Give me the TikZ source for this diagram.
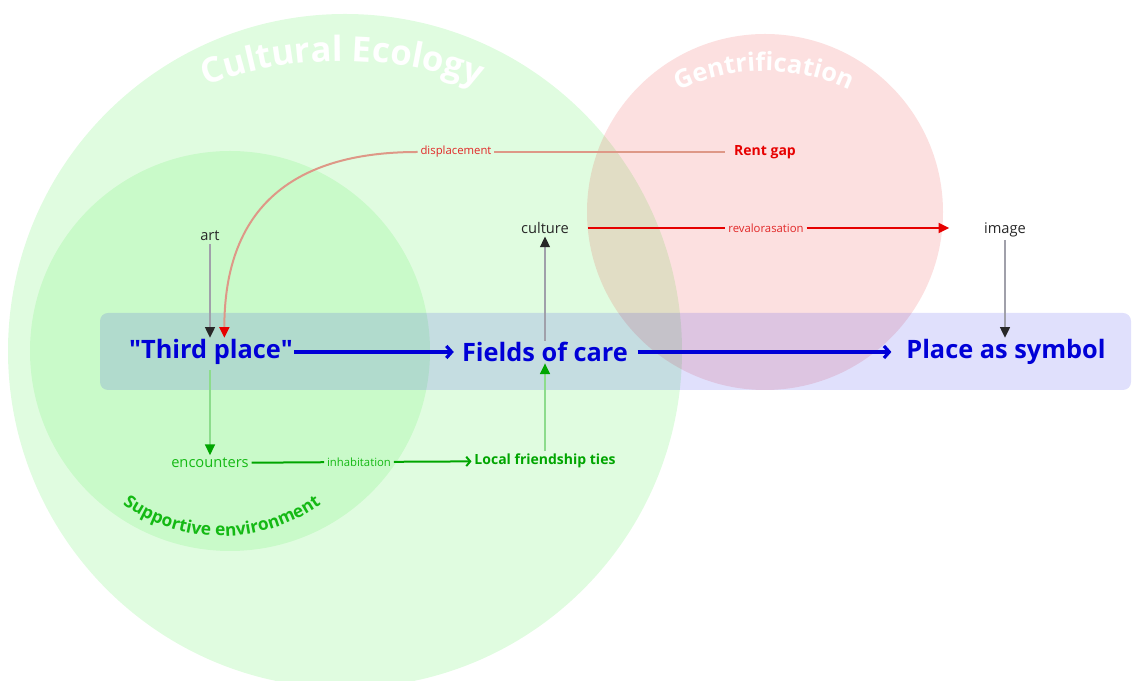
\documentclass[tikz,border=0pt]{standalone}
\usepackage{fontspec}
\setmainfont{Open Sans}
\usepackage{tikz}
\usetikzlibrary{arrows.meta, positioning, decorations.text}
\definecolor{nodeblue}{RGB}{0, 0, 215}
\definecolor{ecogreen}{RGB}{0, 230, 0}
\definecolor{tiegreen}{RGB}{0, 165, 0}
\definecolor{termgreen}{RGB}{20, 185, 20}
\definecolor{linkgreen}{RGB}{140, 220, 140}
\definecolor{gentred}{RGB}{230, 0, 0}
\definecolor{labelred}{RGB}{225, 40, 40}
\definecolor{shiftred}{RGB}{222, 152, 135}
\definecolor{bandblue}{RGB}{0, 0, 230}
\definecolor{textdark}{RGB}{40, 40, 40}
\definecolor{linkgray}{RGB}{160, 160, 170}

\begin{document}
\begin{tikzpicture}[
    x=0.75pt, y=0.75pt,
    main/.style={font=\fontsize{19}{22}\selectfont\bfseries, text=nodeblue, inner sep=1pt},
    term/.style={font=\fontsize{11}{13}\selectfont, text=textdark, inner sep=2pt},
    keyterm/.style={font=\fontsize{10.5}{13}\selectfont\bfseries, inner sep=2pt},
    edgelabel/.style={font=\fontsize{8.5}{10}\selectfont, inner sep=2pt},
    flow/.style={line width=2.4pt, draw=nodeblue, -{Straight Barb[length=4pt, width=9pt]}},
    feed/.style={line width=1.1pt, draw=linkgray, -{Triangle[length=8pt, width=7.5pt, color=textdark]}},
    growlink/.style={line width=1.1pt, draw=linkgreen, -{Triangle[length=8pt, width=7.5pt, color=tiegreen]}},
    arctitle/.style={decorate, decoration={text along path, text align=center}}
]
    \useasboundingbox (0,0) rectangle (1133,681);

    % spheres
    \fill[ecogreen, fill opacity=0.12] (345,330) circle[radius=337];
    \fill[ecogreen, fill opacity=0.10] (230,330) circle[radius=200];
    \fill[gentred, fill opacity=0.12] (765,469) circle[radius=178];
    \fill[bandblue, fill opacity=0.12, rounded corners=6pt] (100,291) rectangle (1131,368);

    \path[arctitle, decoration={text={|\fontsize{26}{26}\selectfont\bfseries\color{white}|Cultural Ecology}}]
        (342,230) ++(125:390) arc[start angle=125, end angle=55, radius=390];
    \path[arctitle, decoration={text={|\fontsize{19}{19}\selectfont\bfseries\color{white}|Gentrification}}]
        (764,410) ++(120:200) arc[start angle=120, end angle=60, radius=200];
    \path[arctitle, decoration={text={|\fontsize{13}{13}\selectfont\bfseries\color{termgreen}|Supportive environment}}]
        (222,315) ++(205:170) arc[start angle=205, end angle=335, radius=170];

    % nodes
    \node[main] (third)  at (211,329)  {\textquotedbl Third place\textquotedbl};
    \node[main] (fields) at (545,329)  {Fields of care};
    \node[main] (symbol) at (1006,329) {Place as symbol};

    \node[term] (art)     at (210,445)  {art};
    \node[term] (culture) at (545,453)  {culture};
    \node[term] (image)   at (1005,451) {image};

    \node[keyterm, text=gentred] (rent) at (765,529) {Rent gap};
    \node[edgelabel, text=labelred] (disp)  at (456,529) {displacement};
    \node[edgelabel, text=labelred] (reval) at (766,453) {revalorasation};

    \node[term, text=termgreen] (enc)  at (210,218) {encounters};
    \node[keyterm, text=tiegreen] (ties) at (545,220) {Local friendship ties};
    \node[edgelabel, text=termgreen] (inhab) at (359,219) {inhabitation};

    % links
    \draw[flow, shorten >=5pt] (third) -- (fields);
    \draw[flow, shorten <=6pt, shorten >=10pt] (fields) -- (symbol);

    \draw[feed] (art) -- (third.north -| art);
    \draw[feed] (fields) -- (culture);
    \draw[feed] (image) -- (symbol.north -| image);

    \draw[line width=1.5pt, draw=gentred, shorten <=12pt] (culture) -- (reval);
    \draw[line width=1.5pt, draw=gentred, shorten >=24pt,
          -{Triangle[length=8pt, width=7.5pt]}] (reval.east) -- (reval.east -| image.west);

    \draw[line width=1.5pt, draw=shiftred, shorten <=5pt] (rent) -- (disp);
    \draw[line width=1.5pt, draw=shiftred, -{Triangle[length=8pt, width=7.5pt, color=gentred]}]
        (disp.west) to[out=180, in=90, out looseness=1, in looseness=1.4] ([xshift=10pt]third.north);

    \draw[growlink, shorten <=3pt] (third.south -| enc) -- (enc);
    \draw[growlink] (ties) -- (fields.south -| ties);
    \draw[line width=1.5pt, draw=tiegreen] (enc) -- (inhab);
    \draw[line width=1.5pt, draw=tiegreen, -{Straight Barb[length=3pt, width=7pt]}] (inhab) -- (ties);
\end{tikzpicture}
\end{document}
